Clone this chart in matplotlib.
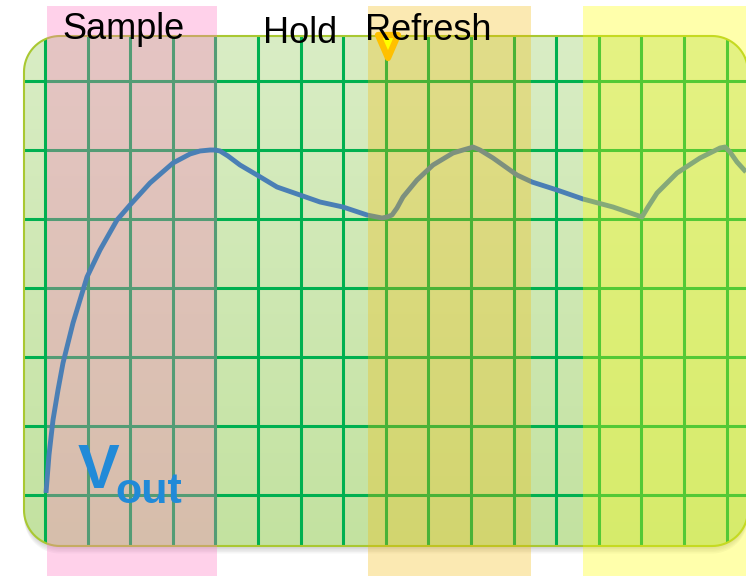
import numpy as np
import matplotlib.pyplot as plt
from matplotlib.patches import PathPatch, Rectangle, Polygon
from matplotlib.path import Path

# --- data (pixel units of the original slide) ---
curve_x = [46, 49, 53, 58, 63, 73, 87, 100, 117, 130, 150, 173, 190, 200, 210, 215, 220,
           228, 240, 257, 277, 300, 320, 343, 367, 377, 382, 387, 392, 397, 403, 417, 433,
           453, 463, 470, 473, 480, 493, 517, 532, 557, 583, 613, 642, 648, 657, 677,
           700, 712, 720, 725, 730, 737, 746]
curve_y = [493, 455, 420, 390, 363, 323, 277, 250, 220, 205, 183, 163, 154, 151, 150, 150, 151,
           156, 165, 175, 187, 195, 202, 207, 215, 217, 218, 217, 215, 208, 197, 180, 165,
           153, 150, 148, 147, 150, 158, 175, 182, 190, 199, 207, 217, 207, 193, 173,
           158, 152, 148, 147, 152, 162, 172]

grid_x = [45 + 42.6 * i for i in range(17)]
grid_y = [81, 150, 219, 288, 357, 426, 495]

sample_band = (47, 217, (1.0, 0.46, 0.76, 0.33))
top_bands_left = [368, 583]
top_bands_right = [531, 746]
top_bands_colors = [(0.96, 0.725, 0.0, 0.30), (1.0, 1.0, 0.0, 0.33)]

labels = ["Sample", "Hold", "Refresh"]
label_x = [62, 263, 365]
label_y = [39, 43, 40]

plt.rcParams['font.family'] = ['Liberation Sans', 'DejaVu Sans']


def rounded_rect(x0, y0, x1, y1, r, n=20):
    # corner arcs, y grows downward
    pts = []
    for cx, cy, a0 in [(x1 - r, y0 + r, -90), (x1 - r, y1 - r, 0),
                       (x0 + r, y1 - r, 90), (x0 + r, y0 + r, 180)]:
        a = np.radians(np.linspace(a0, a0 + 90, n))
        pts += list(zip(cx + r * np.cos(a), cy + r * np.sin(a)))
    pts.append(pts[0])
    return Path(pts, closed=True)


fig = plt.figure(figsize=(7.46, 5.76), dpi=100)
ax = fig.add_axes([0, 0, 1, 1])
ax.set_xlim(0, 746)
ax.set_ylim(576, 0)
ax.axis('off')

# shadow under the screen
for k in range(1, 6):
    ax.add_patch(PathPatch(rounded_rect(24, 36 + k * 1.5, 748, 546 + k * 1.5, 36),
                           fc='#606060', ec='none', alpha=0.06, zorder=1))

# rounded screen with green gradient
box = PathPatch(rounded_rect(24, 36, 748, 546, 36), fc='none', ec='none', zorder=2)
ax.add_patch(box)
top = np.array([217, 237, 197]) / 255
bot = np.array([195, 226, 160]) / 255
t = np.linspace(0, 1, 256)[:, None, None]
grad = (top * (1 - t) + bot * t) * np.ones((1, 2, 3))
im = ax.imshow(grad, extent=(24, 748, 546, 36), aspect='auto', zorder=2, interpolation='bilinear')
im.set_clip_path(box)

# grid
for gx in grid_x:
    ln = ax.plot([gx, gx], [36, 546], color='#00b050', lw=2.2, zorder=3)[0]
    ln.set_clip_path(box)
for gy in grid_y:
    ln = ax.plot([24, 748], [gy, gy], color='#00b050', lw=2.2, zorder=3)[0]
    ln.set_clip_path(box)

# screen border
ax.add_patch(PathPatch(rounded_rect(24, 36, 748, 546, 36), fc='none', ec='#a9c832',
                       lw=1.5, zorder=4))

# sample band sits under the curve
l, r, c = sample_band
ax.add_patch(Rectangle((l, 6), r - l, 570, fc=c, ec='none', zorder=5))

# Vout curve
ax.plot(curve_x, curve_y, color='#4a7fb5', lw=3.5, solid_capstyle='butt',
        solid_joinstyle='round', zorder=6)

# refresh / later bands over the curve
for l, r, c in zip(top_bands_left, top_bands_right, top_bands_colors):
    ax.add_patch(Rectangle((l, 6), r - l, 570, fc=c, ec='none', zorder=7))

# refresh marker
tri = Polygon([[378, 35], [398, 35], [388, 58]], closed=True, fc='#ffff00',
              ec='#ffc000', lw=4.5, joinstyle='round', zorder=8)
ax.add_patch(tri)

for s, x, y in zip(labels, label_x, label_y):
    ax.text(x, y, s, fontsize=26, ha='left', va='baseline', color='black', zorder=9)

ax.text(78, 488, "V", fontsize=45, fontweight='bold', color='#218ad8',
        ha='left', va='baseline', zorder=9)
ax.text(115, 503, "out", fontsize=31, fontweight='bold', color='#218ad8',
        ha='left', va='baseline', zorder=9)

fig.savefig("out.png", dpi=100)
